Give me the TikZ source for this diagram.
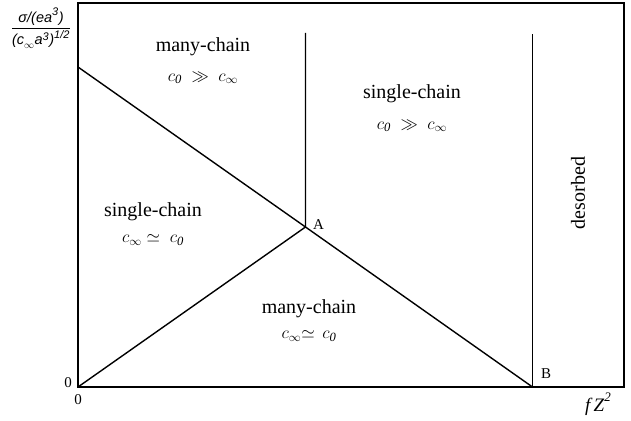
\documentclass[tikz,border=0pt]{standalone}
\usepackage{amsmath}
\usepackage{amssymb}
\usepackage{fontspec}
\setmainfont{Liberation Serif}
\newfontfamily\axisfont{Liberation Sans}
\usepackage{tikz}
\usetikzlibrary{positioning}

\newcommand{\ax}[1]{\text{\axisfont\itshape #1}}
\newcommand{\axsup}[1]{\text{\axisfont\itshape\fontsize{11}{12}\selectfont #1}}

\tikzset{
	border/.style={line width=1.4pt},
	phase/.style={font=\fontsize{20}{22}\selectfont, inner sep=0pt},
	cond/.style={font=\fontsize{18}{20}\selectfont, inner sep=0pt},
	ptlabel/.style={font=\fontsize{15}{17}\selectfont, inner sep=0pt}
}

\begin{document}
\begin{tikzpicture}[x=1pt, y=-1pt]
		\useasboundingbox (0,0) rectangle (631,420);
		% Corners and crossings:
		\coordinate (O) at (78, 387);
		\coordinate (TL) at (78, 3);
		\coordinate (TR) at (624, 3);
		\coordinate (BR) at (624, 387);
		\coordinate (Y) at (78, 67);
		\coordinate (A) at (305.5, 227);
		\coordinate (Atop) at (305.5, 33);
		\coordinate (B) at (532.5, 387);
		\coordinate (Btop) at (532.5, 34);
		% Paths:
		\draw[border] (TL) -- (TR) -- (BR) -- (O) -- cycle;
		\draw[border] (Y) -- (A) -- (B);
		\draw[border] (O) -- (A) -- (Atop);
		\draw[border] (B) -- (Btop);
		% Nodes:
		\node[phase] (mc1) at (203, 47) {many-chain};
		\node[cond] (mc1c) at (203, 78) {$c_{\mathit{0}} \;\gg\; c_\infty$};
		\node[phase] (sc1) at (412, 94) {single-chain};
		\node[cond] (sc1c) at (412, 126) {$c_{\mathit{0}} \;\gg\; c_\infty$};
		\node[phase] (sc2) at (153, 212) {single-chain};
		\node[cond] (sc2c) at (153, 240) {$c_\infty \simeq\; c_{\mathit{0}}$};
		\node[phase] (mc2) at (309, 309) {many-chain};
		\node[cond] (mc2c) at (309, 336) {$c_\infty{\simeq}\;\, c_{\mathit{0}}$};
		\node[phase, rotate=90] (des) at (578, 193) {desorbed};
		\node[ptlabel, anchor=west] (Alab) at (313, 225) {A};
		\node[ptlabel, anchor=west] (Blab) at (541, 374) {B};
		\node[ptlabel] (zeroy) at (68, 383) {0};
		\node[ptlabel] (zerox) at (78, 400) {0};
		\node[font=\fontsize{19}{21}\selectfont, inner sep=0pt] (fz) at (598, 404) {\textit{f\,Z}\raisebox{1.2ex}{\fontsize{13}{14}\selectfont\textit{2}}};
		\node[inner sep=0pt, font=\fontsize{14.5}{17}\selectfont] (ylab) at (41, 28) {$\dfrac{\ax{σ/(ea}^{\axsup{3}}\ax{)}}{\ax{(c}_{\infty}\ax{a}^{\axsup{3}}\ax{)}^{\axsup{1/2}}}$};
	\end{tikzpicture}
\end{document}
